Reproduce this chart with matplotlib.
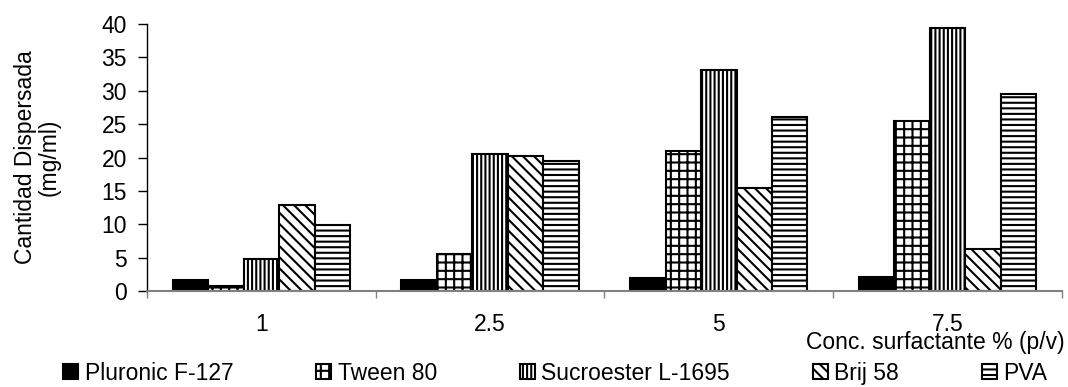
import numpy as np
import matplotlib.pyplot as plt

plt.rcParams['font.family'] = ['Liberation Sans', 'DejaVu Sans']
plt.rcParams['hatch.linewidth'] = 1.5

# concentraciones de surfactante
conc = ['1', '2.5', '5', '7.5']

pluronic = [1.6, 1.6, 1.9, 2.1]
tween = [0.8, 5.5, 21.0, 25.5]
sucroester = [4.8, 20.5, 33.1, 39.4]
brij = [12.9, 20.2, 15.4, 6.3]
pva = [9.9, 19.5, 26.0, 29.5]

series = [
    ('Pluronic F-127', pluronic, 'black', ''),
    ('Tween 80', tween, 'white', '++'),
    ('Sucroester L-1695', sucroester, 'white', '||||'),
    ('Brij 58', brij, 'white', '\\\\\\'),
    ('PVA', pva, 'white', '---'),
]

fs = 16.5

fig = plt.figure(figsize=(10.68, 3.87), dpi=100)
ax = fig.add_axes([0.1376, 0.248, 0.8567, 0.69])

x = np.arange(len(conc))
w = 0.155
handles = []
for i, (name, vals, fc, hatch) in enumerate(series):
    b = ax.bar(x + (i - 2) * w, vals, w, color=fc, edgecolor='black',
               hatch=hatch, linewidth=1.5, label=name)
    handles.append(b)

ax.set_xlim(-0.5, len(conc) - 0.5)
ax.set_ylim(0, 40)
ax.set_yticks(range(0, 41, 5))
ax.set_xticks(x)
ax.set_xticklabels(conc)
ax.set_xticks(np.arange(-0.5, len(conc), 1.0), minor=True)

ax.tick_params(axis='y', labelsize=fs, length=6.5, width=1, pad=8, direction='out')
ax.tick_params(axis='x', which='major', labelsize=fs, length=0, pad=16)
ax.tick_params(axis='x', which='minor', length=5, width=1, color='#808080')

for s in ['top', 'right']:
    ax.spines[s].set_visible(False)
ax.spines['left'].set_linewidth(1)
ax.spines['bottom'].set_color('#808080')
ax.spines['bottom'].set_linewidth(1.5)

ax.set_ylabel('Cantidad Dispersada\n(mg/ml)', fontsize=fs, labelpad=29,
              linespacing=1.05)
fig.text(0.997, 0.114, 'Conc. surfactante % (p/v)', ha='right', va='center',
         fontsize=fs)

fig.legend(handles=handles, loc='center', bbox_to_anchor=(0.52, 0.036),
           ncol=5, frameon=False, fontsize=fs, handlelength=0.65,
           handleheight=0.65, handletextpad=0.3, columnspacing=3.6,
           borderpad=0, borderaxespad=0)

fig.savefig('out.png', dpi=100)
